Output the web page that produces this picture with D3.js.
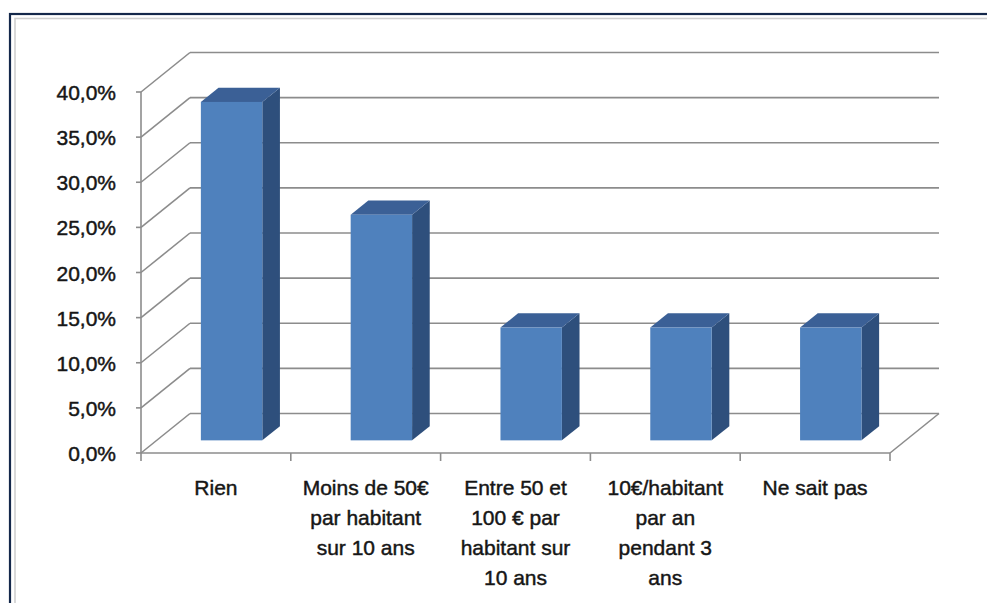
<!DOCTYPE html>
<html>
<head>
<meta charset="utf-8">
<script src="https://cdn.jsdelivr.net/npm/d3@7"></script>
<style>
  html, body { margin: 0; padding: 0; background: #fff; overflow: hidden; }
  svg { display: block; }
  text { font-family: "Liberation Sans", Arial, sans-serif; fill: #161616; stroke: #161616; stroke-width: 0.45px; }
</style>
</head>
<body>
<svg id="chart" width="987" height="603"></svg>
<script>
// Survey answers and their shares
const categories = [
  "Rien",
  "Moins de 50€ par habitant sur 10 ans",
  "Entre 50 et 100 € par habitant sur 10 ans",
  "10€/habitant par an pendant 3 ans",
  "Ne sait pas"
];
const categoryLines = [
  ["Rien"],
  ["Moins de 50€", "par habitant", "sur 10 ans"],
  ["Entre 50 et", "100 € par", "habitant sur", "10 ans"],
  ["10€/habitant", "par an", "pendant 3", "ans"],
  ["Ne sait pas"]
];
const values = [0.375, 0.25, 0.125, 0.125, 0.125];
const yTicks = [0, 0.05, 0.10, 0.15, 0.20, 0.25, 0.30, 0.35, 0.40];

const svg = d3.select("#chart");

// French number formatting: 40,0%
const fr = d3.formatLocale({ decimal: ",", thousands: " ", grouping: [3], currency: ["", " €"], percent: "%" });
const fmt = fr.format(".1%");

// Plot geometry: front plane scales plus an oblique depth vector
const x = d3.scaleBand().domain(categories).range([141, 890]);
const y = d3.scaleLinear().domain([0, 0.4]).range([453, 92]);
const depth = { dx: 49, dy: -39.5 };
const barFront = 0.32;   // bar front face position along the depth
const barDepth = 0.36;   // bar thickness along the depth
const barWidthRatio = 0.41;

const gridColor = "#8c8c8c";

// Frame around the chart
svg.append("rect")
  .attr("x", 10).attr("y", 14).attr("width", 1000).attr("height", 620)
  .attr("fill", "none").attr("stroke", "#14284b").attr("stroke-width", 2.2);
svg.append("rect")
  .attr("x", 15).attr("y", 18.5).attr("width", 1000).attr("height", 620)
  .attr("fill", "none").attr("stroke", "#cfcfcf").attr("stroke-width", 1.6);

const walls = svg.append("g").attr("fill", "none").attr("stroke", gridColor).attr("stroke-width", 1.6);
const [x0, x1] = x.range();

// Back wall gridlines
walls.selectAll("line.back").data(yTicks).join("line")
  .attr("class", "back")
  .attr("x1", x0 + depth.dx).attr("x2", x1 + depth.dx)
  .attr("y1", d => y(d) + depth.dy).attr("y2", d => y(d) + depth.dy);

// Side wall gridlines (diagonals)
walls.selectAll("line.side").data(yTicks).join("line")
  .attr("class", "side")
  .attr("x1", x0).attr("x2", x0 + depth.dx)
  .attr("y1", d => y(d)).attr("y2", d => y(d) + depth.dy);

// Floor right edge
walls.append("line")
  .attr("x1", x1).attr("y1", y(0))
  .attr("x2", x1 + depth.dx).attr("y2", y(0) + depth.dy);

// Value axis line and ticks
walls.append("line").attr("x1", x0).attr("x2", x0).attr("y1", y(0.4)).attr("y2", y(0));
walls.selectAll("line.ytick").data(yTicks).join("line")
  .attr("class", "ytick")
  .attr("x1", x0 - 5).attr("x2", x0)
  .attr("y1", d => y(d)).attr("y2", d => y(d));

// Category axis line and ticks
walls.append("line").attr("x1", x0).attr("x2", x1).attr("y1", y(0)).attr("y2", y(0));
const boundaries = categories.map(c => x(c)).concat([x1]);
walls.selectAll("line.xtick").data(boundaries).join("line")
  .attr("class", "xtick")
  .attr("x1", d => d).attr("x2", d => d)
  .attr("y1", y(0)).attr("y2", y(0) + 8);

// Y labels
svg.append("g").selectAll("text").data(yTicks).join("text")
  .attr("x", 116).attr("y", d => y(d) + 2.5)
  .attr("text-anchor", "end")
  .attr("dominant-baseline", "middle")
  .attr("font-size", 21)
  .text(d => fmt(d));

// 3D bars
const bw = x.bandwidth() * barWidthRatio;
const fx = barFront * depth.dx, fy = barFront * depth.dy;
const ddx = barDepth * depth.dx, ddy = barDepth * depth.dy;

const bars = svg.append("g").selectAll("g.bar")
  .data(categories.map((c, i) => ({ c, v: values[i] })))
  .join("g").attr("class", "bar");

bars.each(function (d) {
  const g = d3.select(this);
  const bx = x(d.c) + (x.bandwidth() - bw) / 2 + fx;
  const yTop = y(d.v) + fy;
  const yBot = y(0) + fy;
  // right side
  g.append("polygon")
    .attr("points", [
      [bx + bw, yTop], [bx + bw + ddx, yTop + ddy],
      [bx + bw + ddx, yBot + ddy], [bx + bw, yBot]
    ].join(" "))
    .attr("fill", "#2e4f7c");
  // top
  g.append("polygon")
    .attr("points", [
      [bx, yTop], [bx + bw, yTop],
      [bx + bw + ddx, yTop + ddy], [bx + ddx, yTop + ddy]
    ].join(" "))
    .attr("fill", "#3b6096");
  // front
  g.append("rect")
    .attr("x", bx).attr("y", yTop)
    .attr("width", bw).attr("height", yBot - yTop)
    .attr("fill", "#4f81bd");
});

// Category labels
const labels = svg.append("g").selectAll("text")
  .data(categories.map((c, i) => ({ c, lines: categoryLines[i] })))
  .join("text")
  .attr("text-anchor", "middle")
  .attr("font-size", 21);

labels.each(function (d) {
  const t = d3.select(this);
  const cx = x(d.c) + x.bandwidth() / 2;
  d.lines.forEach((line, i) => {
    t.append("tspan").attr("x", cx).attr("y", 495 + i * 30).text(line);
  });
});
</script>
</body>
</html>
